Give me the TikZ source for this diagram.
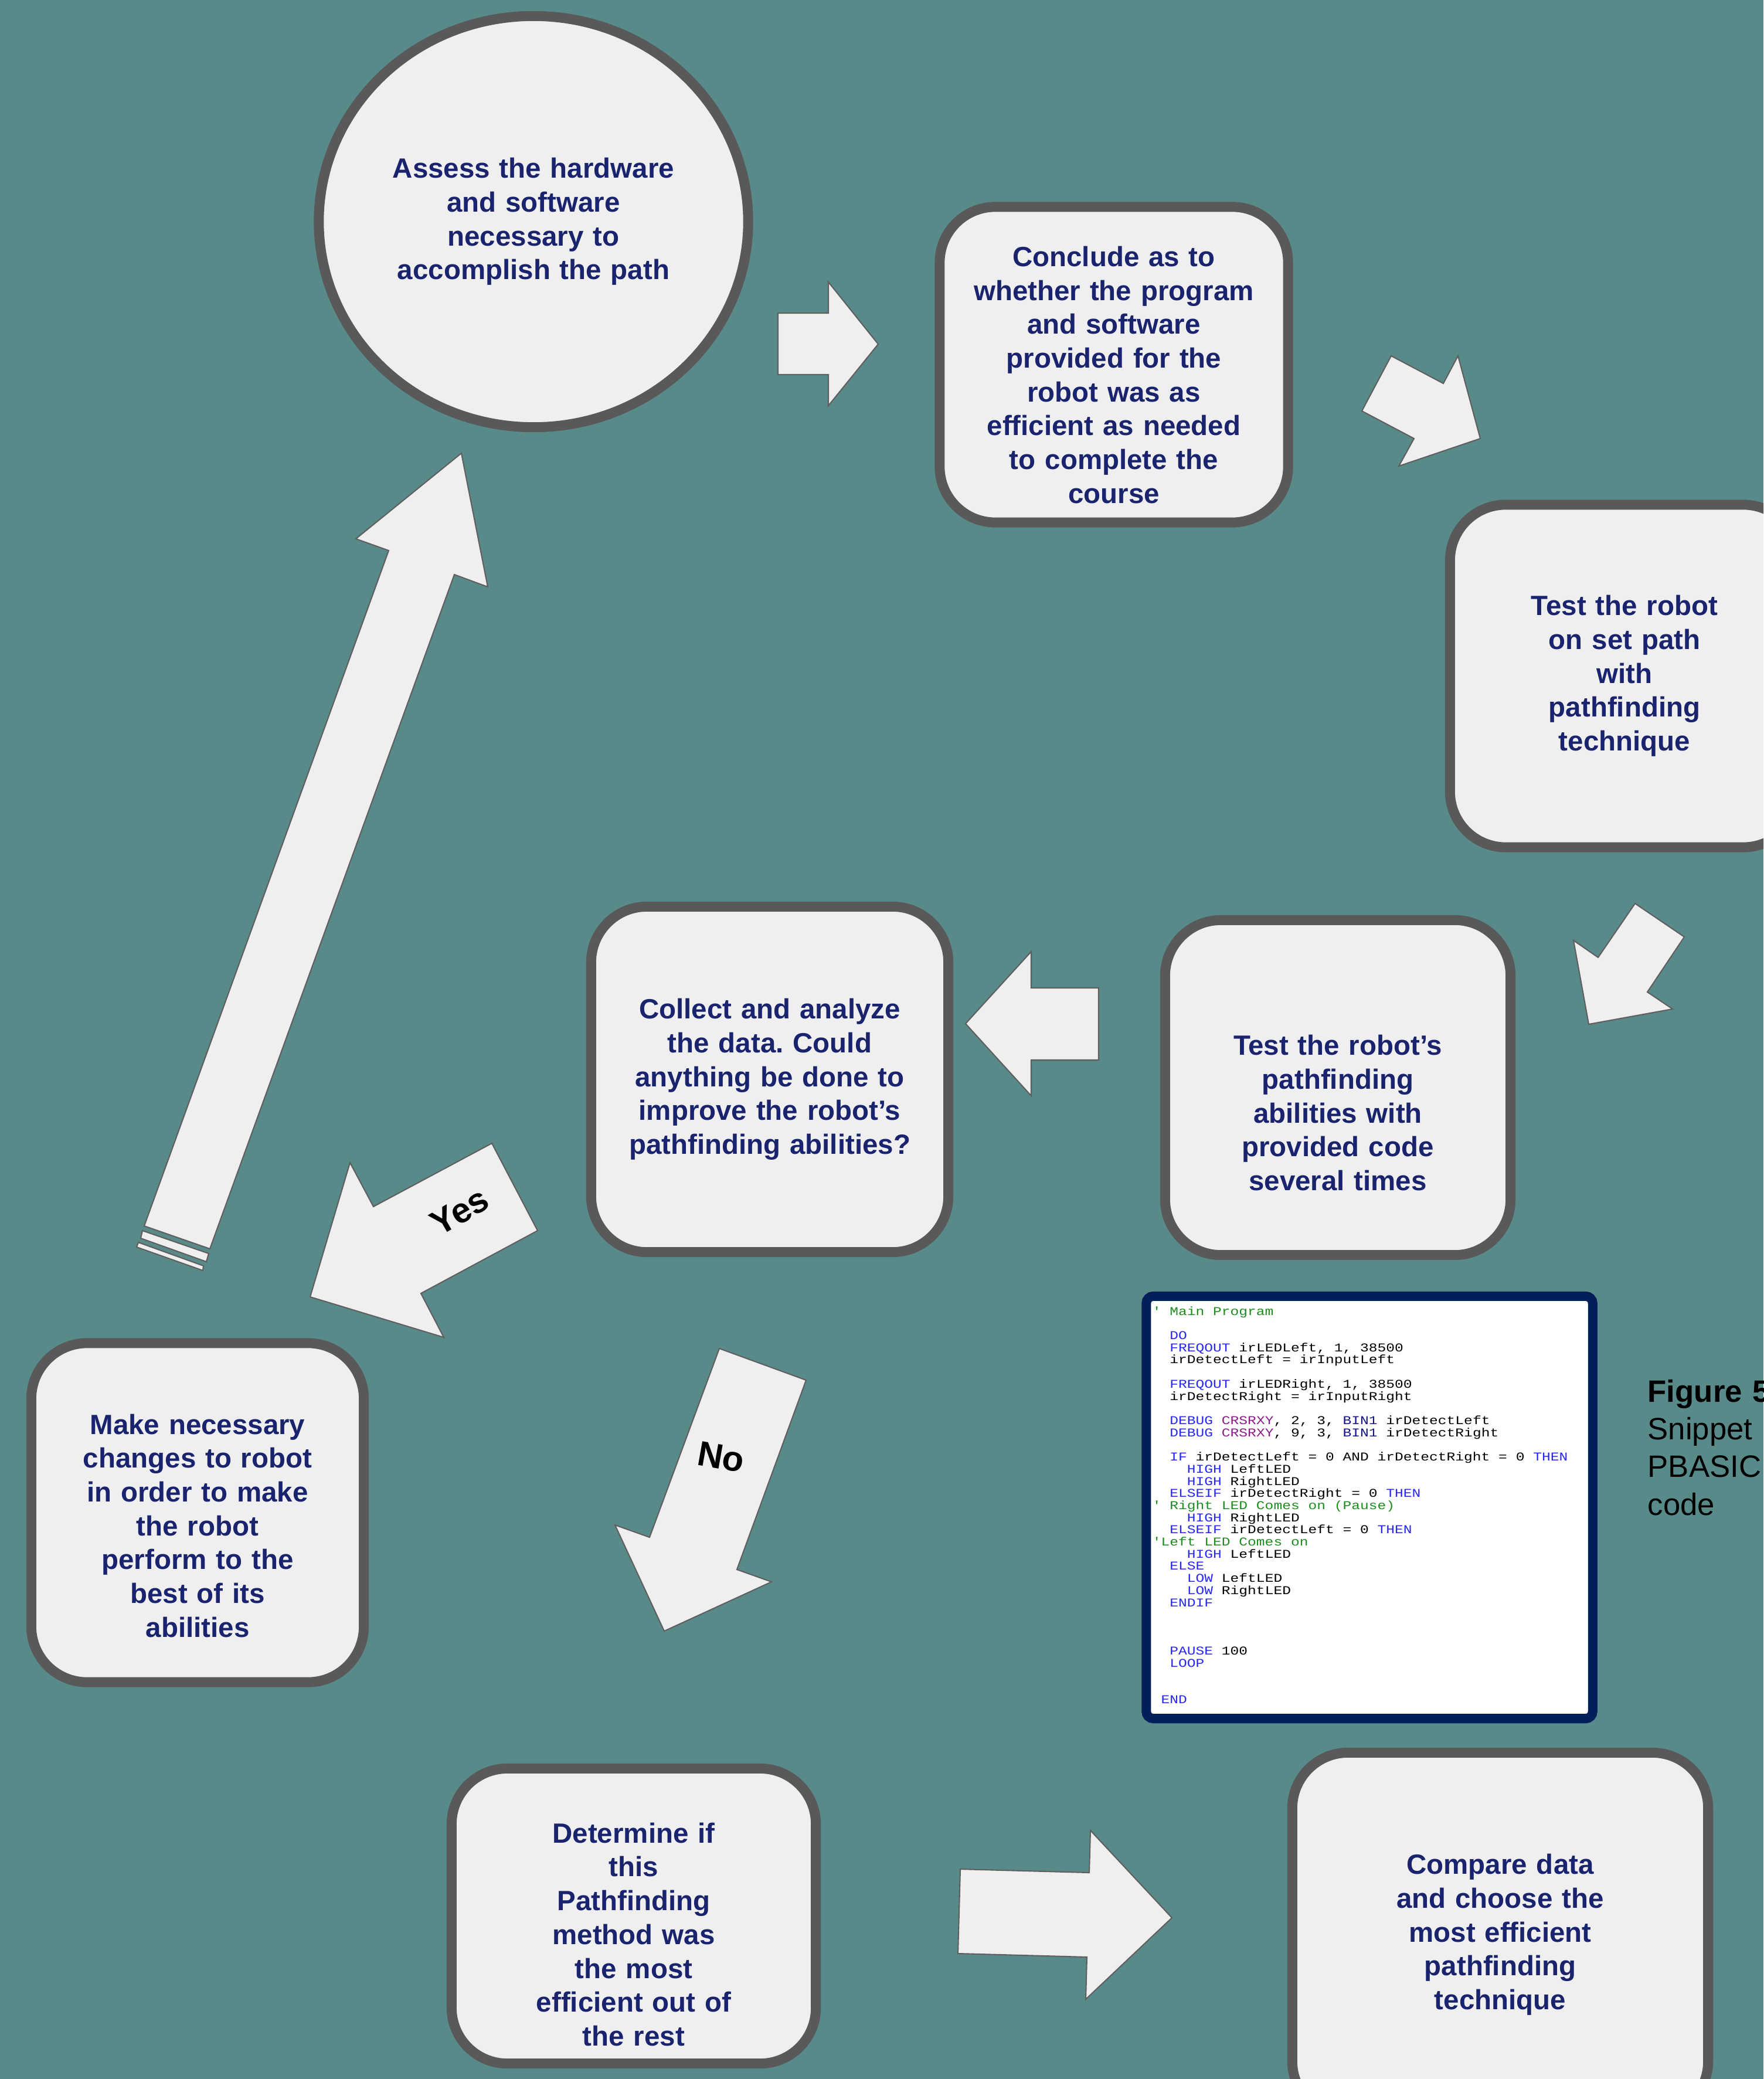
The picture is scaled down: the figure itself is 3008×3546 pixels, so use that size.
\documentclass[tikz,border=0pt]{standalone}
\usepackage{fontspec}
\setmainfont{Liberation Sans}
\setmonofont{Liberation Mono}
\usetikzlibrary{shapes.geometric}
\usetikzlibrary{positioning}
\frenchspacing

\definecolor{bgteal}{RGB}{89,138,138}
\definecolor{cardfill}{RGB}{239,239,239}
\definecolor{cardline}{RGB}{89,89,89}
\definecolor{arrowline}{RGB}{95,95,95}
\definecolor{inkblue}{RGB}{26,35,110}
\definecolor{codenavy}{RGB}{0,31,91}
\definecolor{kwblue}{RGB}{40,40,250}
\definecolor{cmtgreen}{RGB}{30,140,30}
\definecolor{cmdpurple}{RGB}{140,30,140}
\definecolor{binnavy}{RGB}{20,20,140}

\newcommand{\kw}[1]{\textcolor{kwblue}{#1}}
\newcommand{\cmt}[1]{\textcolor{cmtgreen}{#1}}

\tikzset{
  cardbase/.style={draw=cardline,fill=cardfill,line width=0.17cm,inner sep=0pt,align=center,text=inkblue,font=\bfseries\fontsize{13.5}{16.4}\selectfont},
  card/.style={cardbase,rectangle,rounded corners=0.95cm,text width=5.4cm},
  blockarrow/.style={draw=arrowline,fill=cardfill,line width=0.6pt},
  answer/.style={font=\bfseries\fontsize{17}{20}\selectfont,text=black}
}

\begin{document}
\begin{tikzpicture}[x=0.01cm,y=-0.01cm]
\useasboundingbox (0,0) rectangle (3008,3546);
\clip (0,0) rectangle (3008,3546);
\fill[bgteal] (0,0) rectangle (3008,3546);

\node[cardbase,ellipse,text width=4.9cm,minimum width=7.32cm,minimum height=7.01cm](1) at (910,378){Assess the hardware\\and software\\necessary to\\accomplish the path};
\node[card,minimum width=5.94cm,minimum height=5.38cm](2) at (1900,622){\rule{0pt}{0.69cm}Conclude as to\\whether the program\\and software\\provided for the\\robot was as\\efficient as needed\\to complete the\\course};
\node[card,minimum width=5.95cm,minimum height=5.84cm](3) at (2771,1153){Test the robot\\on set path\\with\\pathfinding\\technique};
\node[card,minimum width=5.89cm,minimum height=5.71cm](4) at (2282,1855){\rule{0pt}{1.21cm}Test the robot’s\\pathfinding\\abilities with\\provided code\\several times};
\node[card,minimum width=6.09cm,minimum height=5.89cm](5) at (1313,1841){Collect and analyze\\the data. Could\\anything be done to\\improve the robot’s\\pathfinding abilities?};
\node[card,minimum width=5.67cm,minimum height=5.78cm](6) at (337,2580){\rule{0pt}{0.79cm}Make necessary\\changes to robot\\in order to make\\the robot\\perform to the\\best of its\\abilities};
\node[card,minimum width=6.21cm,minimum height=5.03cm](7) at (1081,3268){\rule{0pt}{0.97cm}Determine if\\this\\Pathfinding\\method was\\the most\\efficient out of\\the rest};
\node[card,minimum width=7.09cm,minimum height=6.21cm](8) at (2559,3300){Compare data\\and choose the\\most efficient\\pathfinding\\technique};

\draw[blockarrow] (1327,534)--(1413,534)--(1413,481)--(1498,587)--(1413,692)--(1413,639)--(1327,639)--cycle;
\draw[blockarrow] (2373,607)--(2462,654)--(2487,607)--(2525,748)--(2386,795)--(2412,748)--(2323,701)--cycle;
\draw[blockarrow] (2789,1541)--(2873,1598)--(2810,1692)--(2853,1721)--(2710,1747)--(2684,1604)--(2726,1633)--cycle;
\draw[blockarrow] (1874,1685)--(1759,1685)--(1759,1623)--(1647,1746)--(1759,1869)--(1759,1808)--(1874,1808)--cycle;
\draw[blockarrow] (839,1950)--(917,2099)--(718,2206)--(757,2281)--(529,2212)--(597,1983)--(637,2058)--cycle;
\draw[blockarrow] (1227,2300)--(1375,2354)--(1257,2677)--(1316,2698)--(1133,2782)--(1049,2601)--(1108,2622)--cycle;
\draw[blockarrow] (1638,3188)--(1858,3194)--(1860,3122)--(1999,3271)--(1852,3410)--(1854,3338)--(1634,3332)--cycle;
\draw[blockarrow] (246,2091)--(663,939)--(607,919)--(787,773)--(832,1001)--(775,980)--(358,2130)--cycle;
\draw[blockarrow] (243,2099)--(356,2138)--(352,2152)--(240,2112)--cycle;
\draw[blockarrow] (236,2119)--(347,2159)--(346,2167)--(233,2127)--cycle;

\node[answer,rotate=30](yes) at (784,2066){Yes};
\node[answer,rotate=-10](no) at (1230,2485){No};

\node[draw=codenavy,fill=white,line width=0.16cm,rounded corners=0.12cm,minimum width=7.61cm,minimum height=7.2cm,inner sep=0pt](snippet) at (2336,2571){};
\node[anchor=base west,text width=9cm,align=left,inner sep=0pt,xscale=1.206,font=\ttfamily\fontsize{5.8}{5.89}\selectfont](code) at (1965,2243){%
\lineskiplimit=-10pt\relax\spaceskip=0.6em\relax
\cmt{\textquotesingle{} Main Program}\\
\mbox{}\\
\mbox{}~~\kw{DO}\\
\mbox{}~~\kw{FREQOUT} irLEDLeft, 1, 38500\\
\mbox{}~~irDetectLeft = irInputLeft\\
\mbox{}\\
\mbox{}~~\kw{FREQOUT} irLEDRight, 1, 38500\\
\mbox{}~~irDetectRight = irInputRight\\
\mbox{}\\
\mbox{}~~\kw{DEBUG} \textcolor{cmdpurple}{CRSRXY}, 2, 3, \textcolor{binnavy}{BIN1} irDetectLeft\\
\mbox{}~~\kw{DEBUG} \textcolor{cmdpurple}{CRSRXY}, 9, 3, \textcolor{binnavy}{BIN1} irDetectRight\\
\mbox{}\\
\mbox{}~~\kw{IF} irDetectLeft = 0 AND irDetectRight = 0 \kw{THEN}\\
\mbox{}~~~~\kw{HIGH} LeftLED\\
\mbox{}~~~~\kw{HIGH} RightLED\\
\mbox{}~~\kw{ELSEIF} irDetectRight = 0 \kw{THEN}\\
\cmt{\textquotesingle{} Right LED Comes on (Pause)}\\
\mbox{}~~~~\kw{HIGH} RightLED\\
\mbox{}~~\kw{ELSEIF} irDetectLeft = 0 \kw{THEN}\\
\cmt{\textquotesingle Left LED Comes on}\\
\mbox{}~~~~\kw{HIGH} LeftLED\\
\mbox{}~~\kw{ELSE}\\
\mbox{}~~~~\kw{LOW} LeftLED\\
\mbox{}~~~~\kw{LOW} RightLED\\
\mbox{}~~\kw{ENDIF}\\
\mbox{}\\
\mbox{}\\
\mbox{}\\
\mbox{}~~\kw{PAUSE} 100\\
\mbox{}~~\kw{LOOP}\\
\mbox{}\\
\mbox{}\\
\mbox{}~\kw{END}};
\node[anchor=base west,text width=4cm,align=left,inner sep=0pt,font=\fontsize{15}{18.3}\selectfont](caption) at (2810,2391){\textbf{Figure 5}\\Snippet of\\PBASIC\\code};

\end{tikzpicture}
\end{document}
